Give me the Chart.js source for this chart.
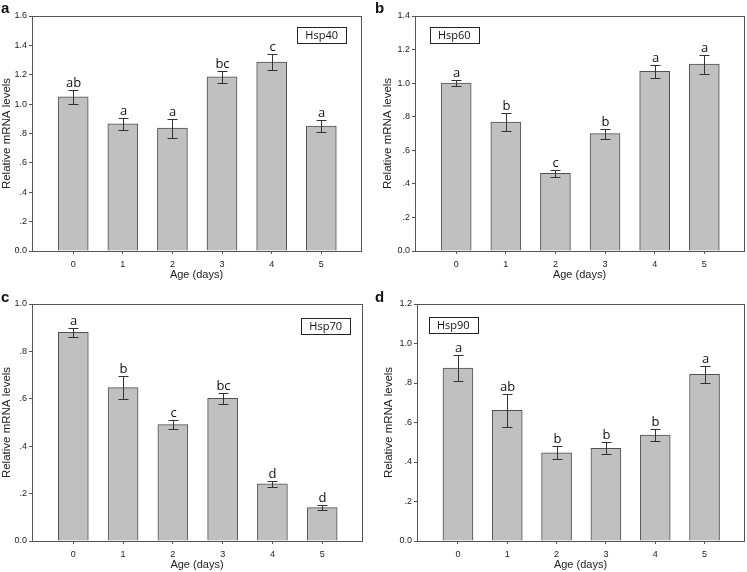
<!DOCTYPE html>
<html lang="en">
<head>
<meta charset="UTF-8">
<title>Relative mRNA levels of Hsp genes</title>
<script src="https://cdn.jsdelivr.net/npm/chart.js"></script>
<style>
  body { margin: 0; background: #fff; }
  #wrap { position: relative; width: 747px; height: 572px; overflow: hidden; background: #fff; }
  #wrap canvas { position: absolute; }
  .tag { position: absolute; font: bold 15px "Liberation Sans", Arial, sans-serif; line-height: 15px; color: #111; }
</style>
</head>
<body>
<div id="wrap">
  <canvas id="chartA" width="369" height="282" style="left:0;top:0"></canvas>
  <canvas id="chartB" width="366" height="282" style="left:381px;top:0"></canvas>
  <canvas id="chartC" width="370" height="284" style="left:0;top:288px"></canvas>
  <canvas id="chartD" width="365" height="284" style="left:382px;top:288px"></canvas>
  <div class="tag" style="left:1px;top:0">a</div>
  <div class="tag" style="left:375px;top:0">b</div>
  <div class="tag" style="left:1px;top:289px">c</div>
  <div class="tag" style="left:375px;top:289px">d</div>
</div>

<script>
// values (mean, SE, significance letters)
const days = [0, 1, 2, 3, 4, 5];

const hsp40 = [1.05, 0.866, 0.837, 1.185, 1.287, 0.851];
const hsp40Err = [0.048, 0.040, 0.065, 0.040, 0.055, 0.043];
const hsp40Sig = ['ab', 'a', 'a', 'bc', 'c', 'a'];

const hsp60 = [1.00, 0.768, 0.463, 0.699, 1.071, 1.113];
const hsp60Err = [0.020, 0.054, 0.022, 0.029, 0.038, 0.056];
const hsp60Sig = ['a', 'b', 'c', 'b', 'a', 'a'];

const hsp70 = [0.880, 0.647, 0.491, 0.602, 0.241, 0.141];
const hsp70Err = [0.019, 0.048, 0.018, 0.024, 0.014, 0.011];
const hsp70Sig = ['a', 'b', 'c', 'bc', 'd', 'd'];

const hsp90 = [0.876, 0.661, 0.446, 0.469, 0.536, 0.844];
const hsp90Err = [0.067, 0.085, 0.033, 0.031, 0.029, 0.044];
const hsp90Sig = ['a', 'ab', 'b', 'b', 'b', 'a'];

const yMaxes = [1.6, 1.4, 1.0, 1.2];

const axisColor = '#555';
const textColor = '#222';
const sans = '"Liberation Sans", Arial, sans-serif';
const open = '"Open Sans", "Noto Sans", sans-serif';

// error bars, letters, frame and the gene name box
const extrasPlugin = {
    id: 'extras',
    afterDatasetsDraw(chart, args, opts) {
        const ctx = chart.ctx;
        const xs = chart.scales.x, ys = chart.scales.y;
        const area = chart.chartArea;
        const vals = chart.data.datasets[0].data;
        ctx.save();

        // error bars
        ctx.strokeStyle = '#333';
        ctx.lineWidth = 1;
        vals.forEach((p, i) => {
            const x = Math.round(xs.getPixelForValue(p.x)) + 0.5;
            const yHi = Math.round(ys.getPixelForValue(p.y + opts.err[i])) + 0.5;
            const yLo = Math.round(ys.getPixelForValue(p.y - opts.err[i])) + 0.5;
            ctx.beginPath();
            ctx.moveTo(x, yHi); ctx.lineTo(x, yLo);
            ctx.moveTo(x - 5, yHi); ctx.lineTo(x + 5, yHi);
            ctx.moveTo(x - 5, yLo); ctx.lineTo(x + 5, yLo);
            ctx.stroke();

            // letter
            ctx.fillStyle = '#111';
            ctx.font = '13px ' + open;
            ctx.textAlign = 'center';
            ctx.textBaseline = 'alphabetic';
            ctx.fillText(opts.sig[i], x, yHi - 4);
        });

        // frame
        ctx.strokeStyle = axisColor;
        ctx.strokeRect(Math.round(area.left) + 0.5, Math.round(area.top) + 0.5,
            Math.round(area.right - area.left), Math.round(area.bottom - area.top));

        // gene name box
        ctx.font = '11px ' + open;
        const bw = ctx.measureText(opts.name).width + 16;
        const bh = 16;
        const bx = opts.boxSide === 'right' ? area.right - opts.boxDx - bw : area.left + opts.boxDx;
        const by = area.top + opts.boxDy;
        ctx.fillStyle = '#fff';
        ctx.fillRect(bx, by, bw, bh);
        ctx.strokeStyle = '#222';
        ctx.strokeRect(Math.round(bx) + 0.5, Math.round(by) + 0.5, Math.round(bw), bh);
        ctx.fillStyle = '#111';
        ctx.textAlign = 'center';
        ctx.textBaseline = 'middle';
        ctx.fillText(opts.name, bx + bw / 2, by + bh / 2 + 1);
        ctx.restore();
    }
};

function yLabel(v) {
    v = Math.round(v * 10) / 10;
    if (v === 0) return '0.0';
    if (v < 1) return '.' + Math.round(v * 10);
    return v.toFixed(1);
}

function makeChart(id, values, err, sig, name, yMax, yWidth, padRight, boxSide, boxDx, boxDy) {
    new Chart(document.getElementById(id), {
        type: 'bar',
        data: {
            datasets: [{
                data: days.map((d, i) => ({ x: d, y: values[i] })),
                backgroundColor: '#c0c0c0',
                borderColor: '#505050',
                borderWidth: 1,
                barThickness: 30
            }]
        },
        options: {
            responsive: false,
            animation: false,
            layout: { padding: { top: 16, right: padRight, left: 0, bottom: 0 } },
            plugins: {
                legend: { display: false },
                tooltip: { enabled: false },
                extras: { err: err, sig: sig, name: name, boxSide: boxSide, boxDx: boxDx, boxDy: boxDy }
            },
            scales: {
                x: {
                    type: 'linear',
                    offset: false,
                    min: -0.83,
                    max: 5.8,
                    afterBuildTicks: s => { s.ticks = s.ticks.filter(t => Number.isInteger(t.value)); },
                    afterFit: s => { s.height = 31; },
                    ticks: { stepSize: 1, color: textColor, font: { family: sans, size: 9 }, padding: 5, maxRotation: 0 },
                    grid: { offset: false, drawOnChartArea: false, tickLength: 3, color: axisColor },
                    border: { display: true, color: axisColor },
                    title: { display: true, text: 'Age (days)', color: textColor, font: { family: sans, size: 11 }, padding: 0 }
                },
                y: {
                    min: 0,
                    max: yMax,
                    afterFit: s => { s.width = yWidth; },
                    ticks: { stepSize: 0.2, color: textColor, font: { family: sans, size: 9 }, padding: 2, callback: yLabel },
                    grid: { drawOnChartArea: false, tickLength: 3, color: axisColor },
                    border: { display: true, color: axisColor },
                    title: { display: true, text: 'Relative mRNA levels', color: textColor, font: { family: sans, size: 11.5 }, padding: 0 }
                }
            }
        },
        plugins: [extrasPlugin]
    });
}

makeChart('chartA', hsp40, hsp40Err, hsp40Sig, 'Hsp40', yMaxes[0], 32, 8, 'right', 15, 11);
makeChart('chartB', hsp60, hsp60Err, hsp60Sig, 'Hsp60', yMaxes[1], 34, 3, 'left', 15, 11);
makeChart('chartC', hsp70, hsp70Err, hsp70Sig, 'Hsp70', yMaxes[2], 32, 8, 'right', 12, 14);
makeChart('chartD', hsp90, hsp90Err, hsp90Sig, 'Hsp90', yMaxes[3], 35, 3, 'left', 12, 13);
</script>
</body>
</html>
